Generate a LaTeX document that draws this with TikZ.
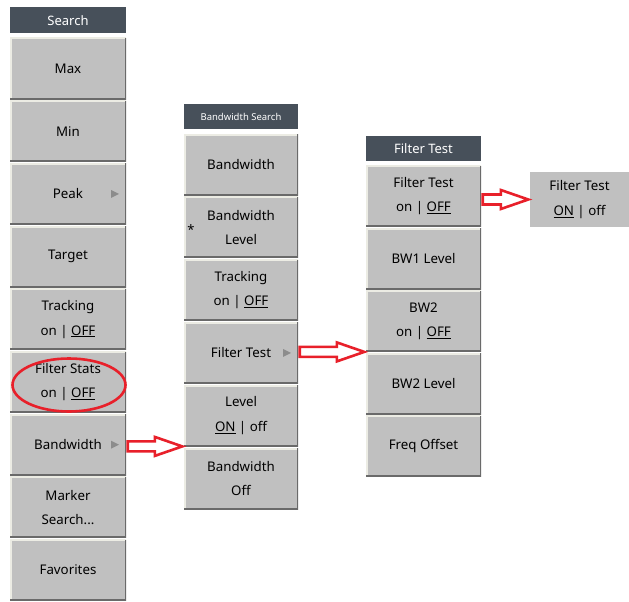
\documentclass[tikz,border=0pt]{standalone}
\usepackage{fontspec}
\setmainfont{Noto Sans}
\usetikzlibrary{calc,shapes.geometric}
\definecolor{btngray}{HTML}{C0C0C0}
\definecolor{btnedge}{HTML}{6A6A6A}
\definecolor{btnlite}{HTML}{ECECE4}
\definecolor{hdrgray}{HTML}{47505A}
\definecolor{markred}{HTML}{E8202A}
\definecolor{trigray}{HTML}{8C8C8C}
\newcommand{\keyedges}{%
    \draw[btnlite, line width=3pt] (path picture bounding box.south west) -- (path picture bounding box.north west) -- (path picture bounding box.north east);
    \draw[btnedge, line width=3pt] (path picture bounding box.south west) -- (path picture bounding box.south east) -- (path picture bounding box.north east);}

\begin{document}
\begin{tikzpicture}[x=1pt,y=-1pt]
    \tikzstyle{key}=[fill=btngray, inner sep=0pt, align=center, minimum height=61pt,
        font=\fontsize{13.3}{24.5}\selectfont, path picture={\keyedges}]
    \tikzstyle{sub}=[key, path picture={\keyedges
            \fill[trigray] ([xshift=-15pt,yshift=4pt]path picture bounding box.east) -- ([xshift=-15pt,yshift=-4pt]path picture bounding box.east) -- ([xshift=-7pt]path picture bounding box.east) -- cycle;
        }]
    \tikzstyle{title}=[fill=hdrgray, text=white, inner sep=0pt, minimum height=26pt, font=\fontsize{13}{15}\selectfont]
    \tikzstyle{ring}=[draw=markred, line width=2.6pt, ellipse, minimum width=113pt, minimum height=53pt]
    \tikzstyle{fat}=[draw=markred, line width=2.6pt, fill=white, to path={
        let \p1=(\tikztostart), \p2=(\tikztotarget) in
        (\x1+1.5pt,\y2+5pt) -- (\x2-29pt,\y2+5pt) -- (\x2-29pt,\y2+9.5pt) -- (\x2-1.5pt,\y2)
        -- (\x2-29pt,\y2-9.5pt) -- (\x2-29pt,\y2-5pt) -- (\x1+1.5pt,\y2-5pt) -- cycle}]

    \useasboundingbox[fill=white] (0,0) rectangle (629,602);

    % Search menu
    \node[title, minimum width=116pt] at (68,20.5) (m) {Search};
    \node[key, minimum width=116pt] at (68,68.5) (m0) {Max};
    \node[key, minimum width=116pt] at (68,131.2) (m1) {Min};
    \node[sub, minimum width=116pt] at (68,193.9) (m2) {Peak};
    \node[key, minimum width=116pt] at (68,256.6) (m3) {Target};
    \node[key, minimum width=116pt] at (68,319.3) (m4) {Tracking\\on | \underline{OFF}};
    \node[key, minimum width=116pt] at (68,382.0) (m5) {Filter Stats\\on | \underline{OFF}};
    \node[sub, minimum width=116pt] at (68,444.7) (m6) {Bandwidth};
    \node[key, minimum width=116pt] at (68,507.4) (m7) {Marker\\Search...};
    \node[key, minimum width=116pt] at (68,570.1) (m8) {Favorites};
    \node[ring] at (69,385) (m5ring) {};

    % Bandwidth Search menu
    \node[title, minimum width=114pt, minimum height=25pt, font=\fontsize{9.5}{11}\selectfont] at (241,116.5) (b) {Bandwidth Search};
    \node[key, minimum width=114pt] at (241,164.5) (b0) {Bandwidth};
    \node[key, minimum width=114pt] at (241,227.3) (b1) {Bandwidth\\Level};
    \node[font=\fontsize{13}{15}\selectfont] at (191,230) (b1star) {*};
    \node[key, minimum width=114pt] at (241,290.1) (b2) {Tracking\\on | \underline{OFF}};
    \node[sub, minimum width=114pt] at (241,352.9) (b3) {Filter Test};
    \node[key, minimum width=114pt] at (241,415.7) (b4) {Level\\\underline{ON} | off};
    \node[key, minimum width=114pt] at (241,478.5) (b5) {Bandwidth\\Off};

    % Filter Test menu
    \node[title, minimum width=115pt, minimum height=25pt] at (423.5,148.5) (f) {Filter Test};
    \node[key, minimum width=115pt] at (423.5,196.0) (f0) {Filter Test\\on | \underline{OFF}};
    \node[key, minimum width=115pt] at (423.5,258.6) (f1) {BW1 Level};
    \node[key, minimum width=115pt] at (423.5,321.2) (f2) {BW2\\on | \underline{OFF}};
    \node[key, minimum width=115pt] at (423.5,383.8) (f3) {BW2 Level};
    \node[key, minimum width=115pt] at (423.5,446.4) (f4) {Freq Offset};

    \node[fill=btngray, inner sep=0pt, align=center, minimum width=99pt, minimum height=55pt,
        font=\fontsize{13.3}{24.5}\selectfont] at (579.5,199.5) (ft) {Filter Test\\\underline{ON} | off};

    \draw[fat] (m6.east) to (b4.south west);
    \draw[fat] (b3.east) to (f2.south west);
    \draw[fat] (f0.east) to (ft.west);
\end{tikzpicture}
\end{document}
